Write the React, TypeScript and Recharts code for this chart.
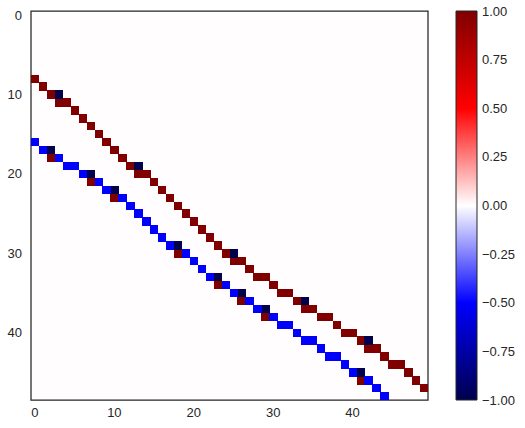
import { ScatterChart, Scatter, XAxis, YAxis, CartesianGrid, ReferenceArea, BarChart, Bar } from 'recharts'

const N_ROWS = 49
const N_COLS = 50
const X_TICKS = [0, 10, 20, 30, 40]
const Y_TICKS = [0, 10, 20, 30, 40]
const CB_TICKS = [-1, -0.75, -0.5, -0.25, 0, 0.25, 0.5, 0.75, 1]

// [row, col] of the non-zero cells, grouped by value
const VAL_POS_ONE: [number, number][] = [
  [8, 0], [9, 1], [10, 2], [11, 3], [11, 4], [12, 5], [13, 6], [14, 7], [15, 8], [16, 9],
  [17, 10], [18, 11], [19, 12], [20, 13], [20, 14], [21, 15], [22, 16], [23, 17], [24, 18],
  [25, 19], [26, 20], [27, 21], [28, 22], [29, 23], [30, 24], [31, 25], [31, 26], [32, 27],
  [33, 28], [33, 29], [34, 30], [35, 31], [35, 32], [36, 33], [37, 34], [37, 35], [38, 36],
  [38, 37], [39, 38], [40, 39], [40, 40], [41, 41], [42, 42], [42, 43], [43, 44], [44, 45],
  [44, 46], [45, 47], [46, 48], [47, 49],
  [18, 2], [21, 7], [23, 10], [30, 18], [34, 23], [36, 26], [38, 29], [46, 41],
]
const VAL_NEG_ONE: [number, number][] = [
  [10, 3], [19, 13], [30, 25], [36, 34], [41, 42],
  [17, 2], [20, 7], [22, 10], [29, 18], [33, 23], [35, 26], [37, 29], [45, 41],
]
const VAL_NEG_HALF: [number, number][] = [
  [16, 0], [17, 1], [18, 3], [19, 4], [19, 5], [20, 6], [21, 8], [22, 9], [23, 11], [24, 12],
  [25, 13], [26, 14], [27, 15], [28, 16], [29, 17], [30, 19], [31, 20], [32, 21], [33, 22],
  [34, 24], [35, 25], [36, 27], [37, 28], [38, 30], [39, 31], [39, 32], [40, 33], [41, 34],
  [41, 35], [42, 36], [43, 37], [43, 38], [44, 39], [45, 40], [46, 42], [47, 43], [48, 44],
]

// matplotlib "seismic"
const SEISMIC: [number, number, number, number][] = [
  [0, 0, 0, 0.3], [0.25, 0, 0, 1], [0.5, 1, 1, 1], [0.75, 1, 0, 0], [1, 0.5, 0, 0],
]
const seismic = (v: number) => {
  const t = Math.min(1, Math.max(0, (v + 1) / 2))
  let i = 0
  while (i < SEISMIC.length - 2 && t > SEISMIC[i + 1][0]) i++
  const [t0, r0, g0, b0] = SEISMIC[i]
  const [t1, r1, g1, b1] = SEISMIC[i + 1]
  const f = (t - t0) / (t1 - t0)
  const c = (a: number, b: number) => Math.round((a + (b - a) * f) * 255)
  return `rgb(${c(r0, r1)},${c(g0, g1)},${c(b0, b1)})`
}

const cells = [
  ...VAL_POS_ONE.map(([row, col]) => ({ row, col, v: 1 })),
  ...VAL_NEG_ONE.map(([row, col]) => ({ row, col, v: -1 })),
  ...VAL_NEG_HALF.map(([row, col]) => ({ row, col, v: -0.5 })),
]

const W = 525
const H = 428
const TOP = 11
const RIGHT = 97
const Y_AXIS_W = 31
const X_AXIS_H = 28
const CB_LEFT = 456
const CB_AXIS_W = 48
const cellW = (W - RIGHT - Y_AXIS_W) / N_COLS
const cellH = (H - TOP - X_AXIS_H) / N_ROWS

const INK = '#262626'
const FONT = '"Liberation Sans", Arial, sans-serif'
const tickStyle = { fill: INK, fontSize: 13, fontFamily: FONT }
const fmtCb = (v: number) => (v < 0 ? '\u2212' : '') + Math.abs(v).toFixed(2)

const CellShape = (props: any) => {
  const { cx, cy, payload } = props
  return (
    <rect
      x={cx - cellW / 2}
      y={cy - cellH / 2}
      width={cellW + 0.4}
      height={cellH + 0.4}
      fill={seismic(payload.v)}
      shapeRendering="crispEdges"
    />
  )
}

export default function App() {
  return (
    <div style={{ position: 'relative', width: W, height: H, background: '#fff' }}>
      <style>{'body{margin:0}'}</style>
      <div style={{ position: 'absolute', left: 0, top: 0 }}>
        <ScatterChart width={W} height={H} margin={{ top: TOP, right: RIGHT, bottom: 0, left: 0 }}>
          <CartesianGrid horizontal={false} vertical={false} fill={seismic(0.004)} />
          <XAxis
            type="number"
            dataKey="col"
            domain={[-0.5, N_COLS - 0.5]}
            ticks={X_TICKS}
            interval={0}
            allowDataOverflow
            axisLine={false}
            tickLine={false}
            tickSize={0}
            tickMargin={8}
            height={X_AXIS_H}
            tick={tickStyle}
          />
          <YAxis
            type="number"
            dataKey="row"
            domain={[-0.5, N_ROWS - 0.5]}
            reversed
            ticks={Y_TICKS}
            interval={0}
            allowDataOverflow
            axisLine={false}
            tickLine={false}
            tickSize={0}
            tickMargin={9}
            width={Y_AXIS_W}
            tick={tickStyle}
          />
          <Scatter data={cells} shape={CellShape} isAnimationActive={false} />
          <ReferenceArea
            x1={-0.5}
            x2={N_COLS - 0.5}
            y1={-0.5}
            y2={N_ROWS - 0.5}
            fill="none"
            stroke={INK}
            strokeWidth={1.25}
            ifOverflow="visible"
          />
        </ScatterChart>
      </div>
      <div style={{ position: 'absolute', left: 0, top: 0 }}>
        <BarChart
          width={W}
          height={H}
          data={[{ name: 'cb', range: [-1, 1] }]}
          barCategoryGap={0}
          margin={{ top: TOP, right: 0, bottom: X_AXIS_H, left: CB_LEFT }}
        >
          <defs>
            <linearGradient id="cbGrad" x1="0" y1="0" x2="0" y2="1">
              {CB_TICKS.slice().reverse().map((v, i) => (
                <stop key={i} offset={`${(i / (CB_TICKS.length - 1)) * 100}%`} stopColor={seismic(v)} />
              ))}
            </linearGradient>
          </defs>
          <XAxis dataKey="name" hide />
          <YAxis
            type="number"
            orientation="right"
            domain={[-1, 1]}
            ticks={CB_TICKS}
            interval={0}
            axisLine={false}
            tickLine={false}
            tickSize={0}
            tickMargin={5}
            width={CB_AXIS_W}
            tick={tickStyle}
            tickFormatter={fmtCb}
          />
          <Bar dataKey="range" fill="url(#cbGrad)" stroke={INK} strokeWidth={1} isAnimationActive={false} />
        </BarChart>
      </div>
    </div>
  )
}
